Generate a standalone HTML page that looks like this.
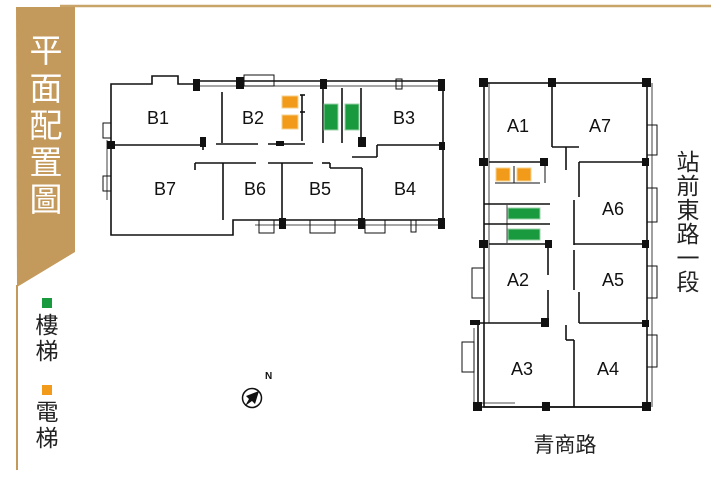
<!DOCTYPE html>
<html><head><meta charset="utf-8"><style>
html,body{margin:0;padding:0;background:#fff}
svg{display:block}
text{font-family:"Liberation Sans","Noto Sans CJK TC",sans-serif}
</style></head><body>
<svg width="720" height="479" viewBox="0 0 720 479" xmlns="http://www.w3.org/2000/svg">
<line x1="60" y1="6" x2="711" y2="6" stroke="#c9a468" stroke-width="2.5"/>
<polygon points="16,7 75,7 75,252 17,287" fill="#c49a5c"/>
<line x1="17" y1="285" x2="17" y2="470" stroke="#c49a5c" stroke-width="2"/>
<g fill="#fff" font-size="33" text-anchor="middle">
<text x="46" y="62">平</text><text x="46" y="100">面</text><text x="46" y="137">配</text><text x="46" y="174">置</text><text x="46" y="211">圖</text>
</g>
<rect x="42" y="298" width="10" height="10" fill="#1a9a3e"/>
<rect x="42" y="385" width="10" height="10" fill="#f29a1a"/>
<g fill="#222" font-size="23" text-anchor="middle">
<text x="47" y="333">樓</text><text x="47" y="359">梯</text>
<text x="47" y="420">電</text><text x="47" y="446">梯</text>
<text x="688" y="170">站</text><text x="688" y="194">前</text><text x="688" y="218">東</text><text x="688" y="242">路</text><text x="688" y="266">一</text><text x="688" y="290">段</text>
<text x="565" y="452" font-size="21">青商路</text>
</g>

<g fill="none" stroke="#111" stroke-width="1.6">
<polyline points="197,81 197,84 178,84 178,76 152,76 152,84 111,84 111,235 233,235 233,220 443,220 443,81 197,81"/>
<line x1="197" y1="86" x2="443" y2="86" stroke-width="0.8"/>
<line x1="255" y1="225" x2="443" y2="225" stroke-width="0.8"/>
<line x1="111" y1="145" x2="203" y2="145"/>
<line x1="203" y1="138" x2="203" y2="150"/>
<line x1="222" y1="92" x2="222" y2="143"/>
<line x1="216" y1="144" x2="258" y2="144"/>
<line x1="268" y1="144" x2="305" y2="144"/>
<line x1="195" y1="163" x2="256" y2="163"/>
<line x1="195" y1="163" x2="195" y2="170"/>
<line x1="268" y1="163" x2="313" y2="163"/>
<line x1="322" y1="163" x2="330" y2="163"/>
<line x1="330" y1="163" x2="330" y2="168"/>
<line x1="330" y1="168" x2="362" y2="168"/>
<line x1="223" y1="163" x2="223" y2="220"/>
<line x1="282" y1="163" x2="282" y2="220"/>
<line x1="362" y1="168" x2="362" y2="220"/>
<line x1="377" y1="145" x2="443" y2="145"/>
<line x1="377" y1="145" x2="377" y2="157"/>
<line x1="352" y1="157" x2="377" y2="157"/>
<line x1="323" y1="82" x2="323" y2="143"/>
<line x1="342" y1="88" x2="342" y2="143"/>
<line x1="361" y1="88" x2="361" y2="138"/>
<line x1="302" y1="95" x2="302" y2="141"/>
<line x1="300" y1="95" x2="305" y2="95"/>
<line x1="300" y1="112" x2="305" y2="112"/>
<rect x="244" y="75" width="30" height="11" stroke-width="1"/>
<rect x="396" y="79" width="6" height="10" stroke-width="1"/>
<rect x="103" y="123" width="8" height="15" stroke-width="1"/>
<rect x="103" y="176" width="8" height="15" stroke-width="1"/>
<line x1="107" y1="140" x2="107" y2="200" stroke-width="0.8"/>
<rect x="259" y="220" width="15" height="13" stroke-width="1"/>
<rect x="310" y="220" width="25" height="13" stroke-width="1"/>
<rect x="365" y="220" width="20" height="13" stroke-width="1"/>
<rect x="411" y="220" width="5" height="12" stroke-width="1"/>

<rect x="484" y="83" width="163" height="324"/>
<line x1="489" y1="83" x2="489" y2="323" stroke-width="0.8"/>
<line x1="652" y1="83" x2="652" y2="407" stroke-width="0.8"/>
<line x1="478" y1="323" x2="478" y2="407"/>
<line x1="478" y1="323" x2="548" y2="323"/>
<line x1="478" y1="407" x2="648" y2="407"/>
<line x1="478" y1="403" x2="515" y2="403" stroke-width="0.8"/>
<line x1="552" y1="83" x2="552" y2="147"/>
<line x1="552" y1="147" x2="579" y2="147"/>
<line x1="566" y1="147" x2="566" y2="170"/>
<line x1="489" y1="162" x2="548" y2="162"/>
<line x1="579" y1="162" x2="647" y2="162"/>
<line x1="579" y1="162" x2="579" y2="197"/>
<line x1="574" y1="200" x2="574" y2="245"/>
<line x1="574" y1="244" x2="647" y2="244"/>
<line x1="574" y1="250" x2="574" y2="290"/>
<line x1="579" y1="292" x2="579" y2="323"/>
<line x1="579" y1="323" x2="647" y2="323"/>
<line x1="566" y1="325" x2="566" y2="340"/>
<line x1="566" y1="340" x2="574" y2="340"/>
<line x1="574" y1="340" x2="574" y2="407"/>
<line x1="484" y1="204" x2="550" y2="204"/>
<line x1="484" y1="224" x2="550" y2="224"/>
<line x1="489" y1="244" x2="548" y2="244"/>
<line x1="548" y1="244" x2="548" y2="275"/>
<line x1="548" y1="290" x2="548" y2="323"/>
<line x1="507" y1="205" x2="507" y2="243" stroke-width="0.8"/>
<line x1="495" y1="183" x2="540" y2="183" stroke-width="1"/>
<line x1="514" y1="166" x2="514" y2="183" stroke-width="1"/>
<line x1="545" y1="166" x2="545" y2="183" stroke-width="1"/>
<rect x="647" y="125" width="10" height="30" stroke-width="1"/>
<rect x="647" y="188" width="10" height="34" stroke-width="1"/>
<rect x="647" y="266" width="10" height="32" stroke-width="1"/>
<rect x="647" y="335" width="10" height="32" stroke-width="1"/>
<rect x="472" y="268" width="12" height="30" stroke-width="1"/>
<rect x="462" y="342" width="12" height="30" stroke-width="1"/>
<line x1="474" y1="328" x2="474" y2="403" stroke-width="0.8"/>
</g>

<g fill="#111">
<rect x="193" y="79" width="7" height="12"/><rect x="236" y="77" width="8" height="12"/><rect x="320" y="79" width="7" height="10"/><rect x="438" y="79" width="7" height="12"/>
<rect x="107" y="141" width="8" height="8"/><rect x="200" y="137" width="6" height="10"/><rect x="276" y="141" width="8" height="5"/><rect x="358" y="137" width="8" height="10"/><rect x="439" y="142" width="6" height="8"/>
<rect x="279" y="218" width="7" height="11"/><rect x="358" y="218" width="7" height="11"/><rect x="438" y="218" width="7" height="11"/>
<rect x="479" y="78" width="9" height="9"/><rect x="548" y="78" width="8" height="9"/><rect x="642" y="78" width="9" height="9"/>
<rect x="479" y="158" width="9" height="8"/><rect x="540" y="158" width="8" height="8"/><rect x="642" y="158" width="7" height="8"/>
<rect x="479" y="240" width="9" height="8"/><rect x="545" y="240" width="7" height="8"/><rect x="642" y="240" width="7" height="8"/>
<rect x="541" y="318" width="8" height="9"/><rect x="642" y="320" width="7" height="7"/><rect x="470" y="320" width="10" height="5"/>
<rect x="473" y="402" width="9" height="9"/><rect x="542" y="402" width="8" height="9"/><rect x="642" y="402" width="9" height="9"/>
</g>
<g fill="#f29a1a" stroke="#f5d28a" stroke-width="1">
<rect x="282" y="96" width="16" height="12"/><rect x="282" y="115" width="16" height="14"/>
<rect x="496" y="168" width="14" height="13"/><rect x="517" y="168" width="14" height="13"/>
</g>
<g fill="#1a9a3e" stroke="#9bd1a8" stroke-width="1">
<rect x="324" y="104" width="14" height="26"/><rect x="345" y="104" width="14" height="26"/>
<rect x="508" y="208" width="32" height="11"/><rect x="508" y="229" width="32" height="11"/>
</g>
<g fill="#111" font-size="18" text-anchor="middle">
<text x="158" y="124">B1</text><text x="253" y="124">B2</text><text x="404" y="124">B3</text>
<text x="165" y="195">B7</text><text x="255" y="195">B6</text><text x="320" y="195">B5</text><text x="405" y="195">B4</text>
<text x="518" y="132">A1</text><text x="600" y="132">A7</text><text x="613" y="215">A6</text>
<text x="518" y="286">A2</text><text x="613" y="286">A5</text><text x="522" y="375">A3</text><text x="608" y="375">A4</text>
</g>
<circle cx="252" cy="398" r="9.5" fill="none" stroke="#111" stroke-width="1.5"/>
<polygon points="259,391 255,404 252,401 245,406 249,399 246,396" fill="#111"/>
<text x="265" y="379" font-size="10" fill="#111" font-weight="bold">N</text>
</svg>
</body></html>
